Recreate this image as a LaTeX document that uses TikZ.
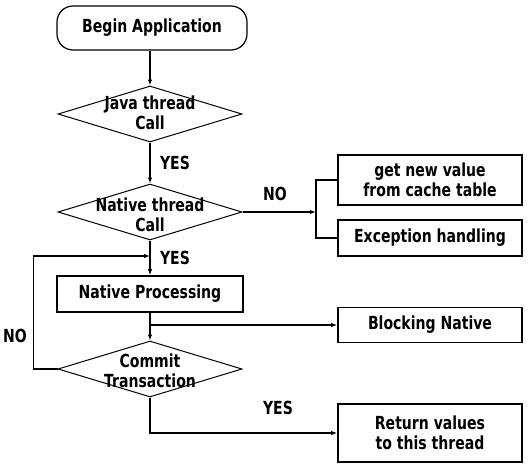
\documentclass[tikz,border=0pt]{standalone}
\usepackage{fontspec}
\newfontfamily\diagfont{DejaVu Sans Bold}[FakeStretch=0.78]
\usetikzlibrary{shapes.geometric,arrows.meta}

\begin{document}
\begin{tikzpicture}[x=1pt,y=-1pt,
  every node/.style={font=\diagfont\fontsize{18}{20}\selectfont, align=center, inner sep=0pt},
  terminal/.style={draw, line width=1.2pt, rounded corners=16pt, minimum width=190pt, minimum height=44pt},
  procbox/.style={draw, line width=1.8pt, minimum width=184pt},
  decision/.style={draw, diamond, line width=1pt, minimum width=184pt, minimum height=56pt},
  flow/.style={line width=1.1pt, -{Latex[length=6pt,width=4.5pt]}},
  link/.style={line width=1.1pt}]
\useasboundingbox (0,0) rectangle (528,464);

% main column
\node[terminal] (start) at (152,28) {Begin Application};
\node[decision] (java) at (150,114) {};
\node (javat) at (150,113) {Java thread\\Call};
\node[decision] (native) at (150,212) {};
\node (nativet) at (150,215) {Native thread\\Call};
\node[procbox, minimum width=186pt, minimum height=36pt] (proc) at (150,294) {Native Processing};
\node[decision] (commit) at (150,369) {};
\node (committ) at (150,371) {Commit\\Transaction};

% right column
\node[procbox, minimum height=50pt] (cache) at (430,180) {get new value\\from cache table};
\node[procbox, minimum height=36pt] (exc) at (430,238) {Exception handling};
\node[procbox, minimum height=35pt] (block) at (430,325) {Blocking Native};
\node[procbox, minimum height=58pt] (ret) at (430,433) {Return values\\to this thread};

% branch points
\coordinate (split) at (316,212);
\coordinate (join) at (150,256);
\coordinate (tap) at (150,325);

% connectors
\draw[flow] (java.north |- start.south) -- (java.north);
\draw[flow] (java.south) -- (native.north);
\draw[flow] (native.east) -- (split);
\draw[link] (cache.west) -| (split) |- (exc.west);
\draw[flow] (native.south) -- (proc.north);
\draw[flow] (proc.south) -- (commit.north);
\draw[flow] (tap) -- (block.west);
\draw[flow] (commit.west) -- ++(-24,0) |- (join);
\draw[flow] (commit.south) |- (ret.west);

% branch labels
\node (yes1) at (175,163) {YES};
\node (no1) at (275,194) {NO};
\node (yes2) at (175,258) {YES};
\node (no2) at (15,336) {NO};
\node (yes3) at (278,408) {YES};
\end{tikzpicture}
\end{document}
